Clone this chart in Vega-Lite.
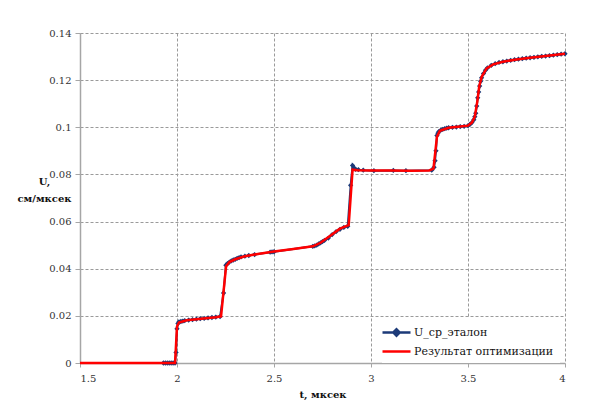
{
  "$schema": "https://vega.github.io/schema/vega-lite/v6.json",
  "autosize": "none",
  "width": 485,
  "height": 330,
  "padding": {"left": 80, "top": 33, "right": 47, "bottom": 39},
  "background": "white",
  "config": {
    "view": {"stroke": null},
    "font": "DejaVu Serif",
    "axis": {
      "labelFont": "DejaVu Serif",
      "labelFontSize": 10,
      "labelColor": "#333333",
      "titleFont": "DejaVu Serif",
      "titleFontSize": 10,
      "titleFontWeight": "bold",
      "titleColor": "#111111",
      "domainColor": "#a6a6a6",
      "domainWidth": 1.5,
      "tickColor": "#a6a6a6",
      "tickSize": 5,
      "gridColor": "#9a9a9a",
      "gridDash": [3, 2],
      "gridWidth": 1
    },
    "legend": {
      "labelFont": "DejaVu Serif"
    }
  },
  "datasets": {
    "etalon": [
      {"t": 1.93, "U": 0, "series": "U_ср_эталон"},
      {"t": 1.94, "U": 0, "series": "U_ср_эталон"},
      {"t": 1.95, "U": 0, "series": "U_ср_эталон"},
      {"t": 1.96, "U": 0, "series": "U_ср_эталон"},
      {"t": 1.97, "U": 0, "series": "U_ср_эталон"},
      {"t": 1.98, "U": 0, "series": "U_ср_эталон"},
      {"t": 1.99, "U": 0, "series": "U_ср_эталон"},
      {"t": 1.995, "U": 0.0045, "series": "U_ср_эталон"},
      {"t": 2.0, "U": 0.0145, "series": "U_ср_эталон"},
      {"t": 2.005, "U": 0.0168, "series": "U_ср_эталон"},
      {"t": 2.01, "U": 0.0174, "series": "U_ср_эталон"},
      {"t": 2.02, "U": 0.0176, "series": "U_ср_эталон"},
      {"t": 2.03, "U": 0.0178, "series": "U_ср_эталон"},
      {"t": 2.04, "U": 0.018, "series": "U_ср_эталон"},
      {"t": 2.06, "U": 0.0182, "series": "U_ср_эталон"},
      {"t": 2.08, "U": 0.0184, "series": "U_ср_эталон"},
      {"t": 2.1, "U": 0.0186, "series": "U_ср_эталон"},
      {"t": 2.12, "U": 0.0188, "series": "U_ср_эталон"},
      {"t": 2.14, "U": 0.0189, "series": "U_ср_эталон"},
      {"t": 2.16, "U": 0.0191, "series": "U_ср_эталон"},
      {"t": 2.18, "U": 0.0193, "series": "U_ср_эталон"},
      {"t": 2.2, "U": 0.0195, "series": "U_ср_эталон"},
      {"t": 2.222, "U": 0.0197, "series": "U_ср_эталон"},
      {"t": 2.24, "U": 0.0297, "series": "U_ср_эталон"},
      {"t": 2.252, "U": 0.0415, "series": "U_ср_эталон"},
      {"t": 2.26, "U": 0.0422, "series": "U_ср_эталон"},
      {"t": 2.27, "U": 0.0428, "series": "U_ср_эталон"},
      {"t": 2.28, "U": 0.0433, "series": "U_ср_эталон"},
      {"t": 2.29, "U": 0.0437, "series": "U_ср_эталон"},
      {"t": 2.3, "U": 0.044, "series": "U_ср_эталон"},
      {"t": 2.31, "U": 0.0444, "series": "U_ср_эталон"},
      {"t": 2.32, "U": 0.0447, "series": "U_ср_эталон"},
      {"t": 2.33, "U": 0.045, "series": "U_ср_эталон"},
      {"t": 2.35, "U": 0.0453, "series": "U_ср_эталон"},
      {"t": 2.37, "U": 0.0456, "series": "U_ср_эталон"},
      {"t": 2.4, "U": 0.046, "series": "U_ср_эталон"},
      {"t": 2.48, "U": 0.047, "series": "U_ср_эталон"},
      {"t": 2.49, "U": 0.0471, "series": "U_ср_эталон"},
      {"t": 2.5, "U": 0.0472, "series": "U_ср_эталон"},
      {"t": 2.7, "U": 0.0495, "series": "U_ср_эталон"},
      {"t": 2.71, "U": 0.0497, "series": "U_ср_эталон"},
      {"t": 2.72, "U": 0.05, "series": "U_ср_эталон"},
      {"t": 2.73, "U": 0.0505, "series": "U_ср_эталон"},
      {"t": 2.74, "U": 0.051, "series": "U_ср_эталон"},
      {"t": 2.75, "U": 0.0515, "series": "U_ср_эталон"},
      {"t": 2.76, "U": 0.052, "series": "U_ср_эталон"},
      {"t": 2.78, "U": 0.053, "series": "U_ср_эталон"},
      {"t": 2.8, "U": 0.0545, "series": "U_ср_эталон"},
      {"t": 2.82, "U": 0.0557, "series": "U_ср_эталон"},
      {"t": 2.84, "U": 0.0567, "series": "U_ср_эталон"},
      {"t": 2.86, "U": 0.0575, "series": "U_ср_эталон"},
      {"t": 2.88, "U": 0.058, "series": "U_ср_эталон"},
      {"t": 2.895, "U": 0.0754, "series": "U_ср_эталон"},
      {"t": 2.905, "U": 0.0838, "series": "U_ср_эталон"},
      {"t": 2.912, "U": 0.0828, "series": "U_ср_эталон"},
      {"t": 2.92, "U": 0.0822, "series": "U_ср_эталон"},
      {"t": 2.935, "U": 0.082, "series": "U_ср_эталон"},
      {"t": 2.96, "U": 0.0818, "series": "U_ср_эталон"},
      {"t": 3.015, "U": 0.0816, "series": "U_ср_эталон"},
      {"t": 3.115, "U": 0.0817, "series": "U_ср_эталон"},
      {"t": 3.18, "U": 0.0816, "series": "U_ср_эталон"},
      {"t": 3.313, "U": 0.0818, "series": "U_ср_эталон"},
      {"t": 3.325, "U": 0.083, "series": "U_ср_эталон"},
      {"t": 3.33, "U": 0.0858, "series": "U_ср_эталон"},
      {"t": 3.335, "U": 0.09, "series": "U_ср_эталон"},
      {"t": 3.34, "U": 0.0965, "series": "U_ср_эталон"},
      {"t": 3.345, "U": 0.0975, "series": "U_ср_эталон"},
      {"t": 3.35, "U": 0.0982, "series": "U_ср_эталон"},
      {"t": 3.36, "U": 0.0988, "series": "U_ср_эталон"},
      {"t": 3.37, "U": 0.0991, "series": "U_ср_эталон"},
      {"t": 3.38, "U": 0.0994, "series": "U_ср_эталон"},
      {"t": 3.39, "U": 0.0996, "series": "U_ср_эталон"},
      {"t": 3.4, "U": 0.0998, "series": "U_ср_эталон"},
      {"t": 3.42, "U": 0.1, "series": "U_ср_эталон"},
      {"t": 3.44, "U": 0.1001, "series": "U_ср_эталон"},
      {"t": 3.46, "U": 0.1003, "series": "U_ср_эталон"},
      {"t": 3.48, "U": 0.1004, "series": "U_ср_эталон"},
      {"t": 3.5, "U": 0.1007, "series": "U_ср_эталон"},
      {"t": 3.51, "U": 0.1012, "series": "U_ср_эталон"},
      {"t": 3.52, "U": 0.102, "series": "U_ср_эталон"},
      {"t": 3.53, "U": 0.1032, "series": "U_ср_эталон"},
      {"t": 3.535, "U": 0.1045, "series": "U_ср_эталон"},
      {"t": 3.54, "U": 0.106, "series": "U_ср_эталон"},
      {"t": 3.545, "U": 0.109, "series": "U_ср_эталон"},
      {"t": 3.55, "U": 0.1125, "series": "U_ср_эталон"},
      {"t": 3.555, "U": 0.115, "series": "U_ср_эталон"},
      {"t": 3.56, "U": 0.1175, "series": "U_ср_эталон"},
      {"t": 3.565, "U": 0.1195, "series": "U_ср_эталон"},
      {"t": 3.57, "U": 0.121, "series": "U_ср_эталон"},
      {"t": 3.58, "U": 0.1228, "series": "U_ср_эталон"},
      {"t": 3.59, "U": 0.1242, "series": "U_ср_эталон"},
      {"t": 3.6, "U": 0.1252, "series": "U_ср_эталон"},
      {"t": 3.62, "U": 0.1263, "series": "U_ср_эталон"},
      {"t": 3.64, "U": 0.127, "series": "U_ср_эталон"},
      {"t": 3.66, "U": 0.1275, "series": "U_ср_эталон"},
      {"t": 3.68, "U": 0.1278, "series": "U_ср_эталон"},
      {"t": 3.7, "U": 0.1281, "series": "U_ср_эталон"},
      {"t": 3.72, "U": 0.1284, "series": "U_ср_эталон"},
      {"t": 3.74, "U": 0.1287, "series": "U_ср_эталон"},
      {"t": 3.76, "U": 0.1289, "series": "U_ср_эталон"},
      {"t": 3.78, "U": 0.1291, "series": "U_ср_эталон"},
      {"t": 3.8, "U": 0.1293, "series": "U_ср_эталон"},
      {"t": 3.82, "U": 0.1295, "series": "U_ср_эталон"},
      {"t": 3.84, "U": 0.1297, "series": "U_ср_эталон"},
      {"t": 3.86, "U": 0.1299, "series": "U_ср_эталон"},
      {"t": 3.88, "U": 0.1301, "series": "U_ср_эталон"},
      {"t": 3.9, "U": 0.1302, "series": "U_ср_эталон"},
      {"t": 3.92, "U": 0.1304, "series": "U_ср_эталон"},
      {"t": 3.94, "U": 0.1306, "series": "U_ср_эталон"},
      {"t": 3.96, "U": 0.1308, "series": "U_ср_эталон"},
      {"t": 3.98, "U": 0.131, "series": "U_ср_эталон"},
      {"t": 4.0, "U": 0.1312, "series": "U_ср_эталон"}
    ],
    "opt": [
      {"t": 1.5, "U": 0, "series": "Результат оптимизации"},
      {"t": 1.99, "U": 0, "series": "Результат оптимизации"},
      {"t": 2.0, "U": 0.0155, "series": "Результат оптимизации"},
      {"t": 2.01, "U": 0.0172, "series": "Результат оптимизации"},
      {"t": 2.05, "U": 0.0181, "series": "Результат оптимизации"},
      {"t": 2.1, "U": 0.0186, "series": "Результат оптимизации"},
      {"t": 2.15, "U": 0.019, "series": "Результат оптимизации"},
      {"t": 2.2, "U": 0.0194, "series": "Результат оптимизации"},
      {"t": 2.227, "U": 0.0198, "series": "Результат оптимизации"},
      {"t": 2.253, "U": 0.041, "series": "Результат оптимизации"},
      {"t": 2.27, "U": 0.0428, "series": "Результат оптимизации"},
      {"t": 2.3, "U": 0.044, "series": "Результат оптимизации"},
      {"t": 2.35, "U": 0.0453, "series": "Результат оптимизации"},
      {"t": 2.4, "U": 0.046, "series": "Результат оптимизации"},
      {"t": 2.5, "U": 0.0473, "series": "Результат оптимизации"},
      {"t": 2.6, "U": 0.0484, "series": "Результат оптимизации"},
      {"t": 2.7, "U": 0.0495, "series": "Результат оптимизации"},
      {"t": 2.74, "U": 0.051, "series": "Результат оптимизации"},
      {"t": 2.79, "U": 0.054, "series": "Результат оптимизации"},
      {"t": 2.84, "U": 0.057, "series": "Результат оптимизации"},
      {"t": 2.885, "U": 0.0585, "series": "Результат оптимизации"},
      {"t": 2.905, "U": 0.082, "series": "Результат оптимизации"},
      {"t": 2.93, "U": 0.0818, "series": "Результат оптимизации"},
      {"t": 3.0, "U": 0.0817, "series": "Результат оптимизации"},
      {"t": 3.1, "U": 0.0817, "series": "Результат оптимизации"},
      {"t": 3.2, "U": 0.0816, "series": "Результат оптимизации"},
      {"t": 3.3, "U": 0.0817, "series": "Результат оптимизации"},
      {"t": 3.322, "U": 0.0825, "series": "Результат оптимизации"},
      {"t": 3.34, "U": 0.096, "series": "Результат оптимизации"},
      {"t": 3.355, "U": 0.0985, "series": "Результат оптимизации"},
      {"t": 3.4, "U": 0.0998, "series": "Результат оптимизации"},
      {"t": 3.46, "U": 0.1003, "series": "Результат оптимизации"},
      {"t": 3.5, "U": 0.1007, "series": "Результат оптимизации"},
      {"t": 3.52, "U": 0.102, "series": "Результат оптимизации"},
      {"t": 3.535, "U": 0.1045, "series": "Результат оптимизации"},
      {"t": 3.548, "U": 0.111, "series": "Результат оптимизации"},
      {"t": 3.558, "U": 0.1175, "series": "Результат оптимизации"},
      {"t": 3.571, "U": 0.1215, "series": "Результат оптимизации"},
      {"t": 3.596, "U": 0.125, "series": "Результат оптимизации"},
      {"t": 3.63, "U": 0.1267, "series": "Результат оптимизации"},
      {"t": 3.68, "U": 0.1278, "series": "Результат оптимизации"},
      {"t": 3.75, "U": 0.1288, "series": "Результат оптимизации"},
      {"t": 3.82, "U": 0.1295, "series": "Результат оптимизации"},
      {"t": 3.9, "U": 0.1302, "series": "Результат оптимизации"},
      {"t": 4.0, "U": 0.1312, "series": "Результат оптимизации"}
    ]
  },
  "encoding": {
    "x": {
      "field": "t",
      "type": "quantitative",
      "scale": {"domain": [1.5, 4], "nice": false, "zero": false},
      "axis": {
        "title": "t, мксек",
        "values": [1.5, 2, 2.5, 3, 3.5, 4],
        "format": "~g",
        "labelPadding": 6,
        "titlePadding": 6,
        "tickSize": 4
      }
    },
    "y": {
      "field": "U",
      "type": "quantitative",
      "scale": {"domain": [0, 0.14], "nice": false},
      "axis": {
        "title": ["U,", "см/мксек"],
        "values": [0, 0.02, 0.04, 0.06, 0.08, 0.1, 0.12, 0.14],
        "format": "~g",
        "labelPadding": 4,
        "titleAngle": 0,
        "titleAlign": "center",
        "titleBaseline": "middle",
        "titleLineHeight": 17,
        "titleX": -36,
        "titleY": 148
      }
    }
  },
  "layer": [
    {
      "data": {"name": "etalon"},
      "mark": {"type": "line", "strokeWidth": 2, "interpolate": "linear"},
      "encoding": {
        "color": {
          "field": "series",
          "type": "nominal",
          "scale": {"domain": ["U_ср_эталон", "Результат оптимизации"], "range": ["#1c3a78", "#ff0000"]},
          "legend": {
            "title": null,
            "orient": "none",
            "legendX": 302,
            "legendY": 285,
            "fillColor": "white",
            "padding": 6,
            "rowPadding": 2,
            "labelFont": "DejaVu Serif",
            "labelFontSize": 11,
            "labelColor": "#111111",
            "labelOffset": 9,
            "symbolSize": 196,
            "symbolStrokeWidth": 2.5,
            "encode": {
              "symbols": {
                "update": {
                  "shape": {"signal": "datum.value === 'U_ср_эталон' ? 'M-2,0H2M-0.45,0L0,-0.45L0.45,0L0,0.45Z' : 'M-2,0H2'"},
                  "fill": {"signal": "datum.value === 'U_ср_эталон' ? '#1c3a78' : 'transparent'"}
                }
              }
            }
          }
        }
      }
    },
    {
      "data": {"name": "etalon"},
      "mark": {"type": "point", "shape": "diamond", "filled": true, "size": 28, "color": "#1c3a78", "opacity": 1},
      "encoding": {}
    },
    {
      "data": {"name": "opt"},
      "mark": {"type": "line", "strokeWidth": 2.5, "interpolate": "linear"},
      "encoding": {
        "color": {"field": "series", "type": "nominal"}
      }
    }
  ]
}
